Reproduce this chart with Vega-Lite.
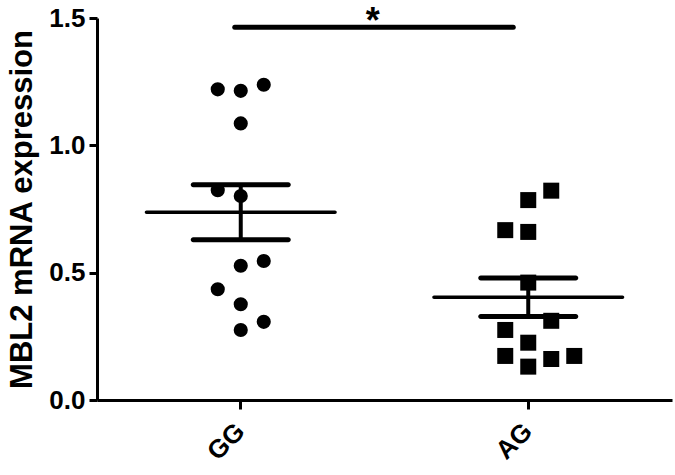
{
  "$schema": "https://vega.github.io/schema/vega-lite/v6.json",
  "autosize": {"type": "none"},
  "padding": {"left": 97, "top": 18, "right": 3, "bottom": 75},
  "width": 575,
  "height": 382,
  "background": "white",
  "config": {
    "view": {"stroke": null},
    "font": "Liberation Sans"
  },
  "datasets": {
    "pts": [
      {"group": "GG", "col": -1, "value": 1.220},
      {"group": "GG", "col": 0, "value": 1.214},
      {"group": "GG", "col": 1, "value": 1.238},
      {"group": "GG", "col": 0, "value": 1.086},
      {"group": "GG", "col": -1, "value": 0.824},
      {"group": "GG", "col": 0, "value": 0.801},
      {"group": "GG", "col": 1, "value": 0.546},
      {"group": "GG", "col": 0, "value": 0.527},
      {"group": "GG", "col": -1, "value": 0.435},
      {"group": "GG", "col": 0, "value": 0.376},
      {"group": "GG", "col": 1, "value": 0.307},
      {"group": "GG", "col": 0, "value": 0.275},
      {"group": "AG", "col": 1, "value": 0.822},
      {"group": "AG", "col": 0, "value": 0.785},
      {"group": "AG", "col": -1, "value": 0.667},
      {"group": "AG", "col": 0, "value": 0.660},
      {"group": "AG", "col": 0, "value": 0.461},
      {"group": "AG", "col": 1, "value": 0.311},
      {"group": "AG", "col": -1, "value": 0.275},
      {"group": "AG", "col": 0, "value": 0.225},
      {"group": "AG", "col": -1, "value": 0.173},
      {"group": "AG", "col": 0, "value": 0.131},
      {"group": "AG", "col": 1, "value": 0.161},
      {"group": "AG", "col": 2, "value": 0.173}
    ],
    "sig": [
      {"from": "GG", "to": "AG", "y": 1.464, "label": "*", "ty": 1.551}
    ]
  },
  "layer": [
    {
      "data": {"name": "pts"},
      "mark": {"type": "point", "filled": true, "opacity": 1, "color": "black"},
      "encoding": {
        "x": {
          "field": "group", "type": "nominal", "sort": null, "title": null,
          "scale": {"domain": ["GG", "AG"], "paddingInner": 0, "paddingOuter": 0},
          "axis": {
            "title": null, "labelAngle": -45, "labelAlign": "right", "labelBaseline": "middle",
            "labelFontSize": 26, "labelFontWeight": "bold", "labelColor": "black",
            "domainColor": "black", "domainWidth": 3, "tickColor": "black", "tickWidth": 3,
            "tickSize": 9, "labelPadding": 18, "grid": false
          }
        },
        "xOffset": {"field": "col", "type": "quantitative", "scale": {"domain": [-1, 1], "range": [120.75, 166.75]}},
        "y": {
          "field": "value", "type": "quantitative", "title": "MBL2 mRNA expression",
          "scale": {"domain": [0, 1.5], "nice": false, "zero": true},
          "axis": {
            "title": "MBL2 mRNA expression", "values": [0, 0.5, 1, 1.5], "format": ".1f",
            "titleFontSize": 31, "titleFontWeight": "bold", "titleColor": "black", "titlePadding": 10,
            "labelFontSize": 26, "labelFontWeight": "bold", "labelColor": "black",
            "domainColor": "black", "domainWidth": 3, "tickColor": "black", "tickWidth": 3,
            "tickSize": 8, "labelPadding": 4, "grid": false
          }
        },
        "shape": {"field": "group", "type": "nominal", "scale": {"domain": ["GG", "AG"], "range": ["circle", "square"]}, "legend": null},
        "size": {"field": "group", "type": "nominal", "scale": {"domain": ["GG", "AG"], "range": [200, 256]}, "legend": null}
      }
    },
    {
      "data": {"name": "pts"},
      "mark": {"type": "errorbar", "extent": "stderr", "color": "black", "thickness": 4, "opacity": 1,
               "rule": {"opacity": 1, "strokeWidth": 4, "color": "black"},
               "ticks": {"size": 100, "thickness": 5, "color": "black", "opacity": 1, "cornerRadius": 2.5}},
      "encoding": {
        "x": {"field": "group", "type": "nominal", "sort": null, "title": null},
        "y": {"field": "value", "type": "quantitative", "title": "MBL2 mRNA expression"}
      }
    },
    {
      "data": {"name": "pts"},
      "mark": {"type": "tick", "color": "black", "opacity": 1, "size": 192, "thickness": 3.5, "orient": "horizontal", "cornerRadius": 1.75},
      "encoding": {
        "x": {"field": "group", "type": "nominal", "sort": null, "title": null},
        "y": {"aggregate": "mean", "field": "value", "type": "quantitative", "title": "MBL2 mRNA expression"}
      }
    },
    {
      "data": {"name": "sig"},
      "mark": {"type": "rule", "color": "black", "strokeWidth": 5, "strokeCap": "round", "xOffset": -6, "x2Offset": -15},
      "encoding": {
        "x": {"field": "from", "type": "nominal", "sort": null, "title": null},
        "x2": {"field": "to"},
        "y": {"field": "y", "type": "quantitative", "title": "MBL2 mRNA expression"}
      }
    },
    {
      "data": {"name": "sig"},
      "mark": {"type": "text", "fontSize": 36, "fontWeight": "bold", "color": "black", "dx": 132, "baseline": "top", "align": "center"},
      "encoding": {
        "x": {"field": "from", "type": "nominal", "sort": null, "title": null},
        "y": {"field": "ty", "type": "quantitative", "title": "MBL2 mRNA expression"},
        "text": {"field": "label"}
      }
    }
  ]
}
